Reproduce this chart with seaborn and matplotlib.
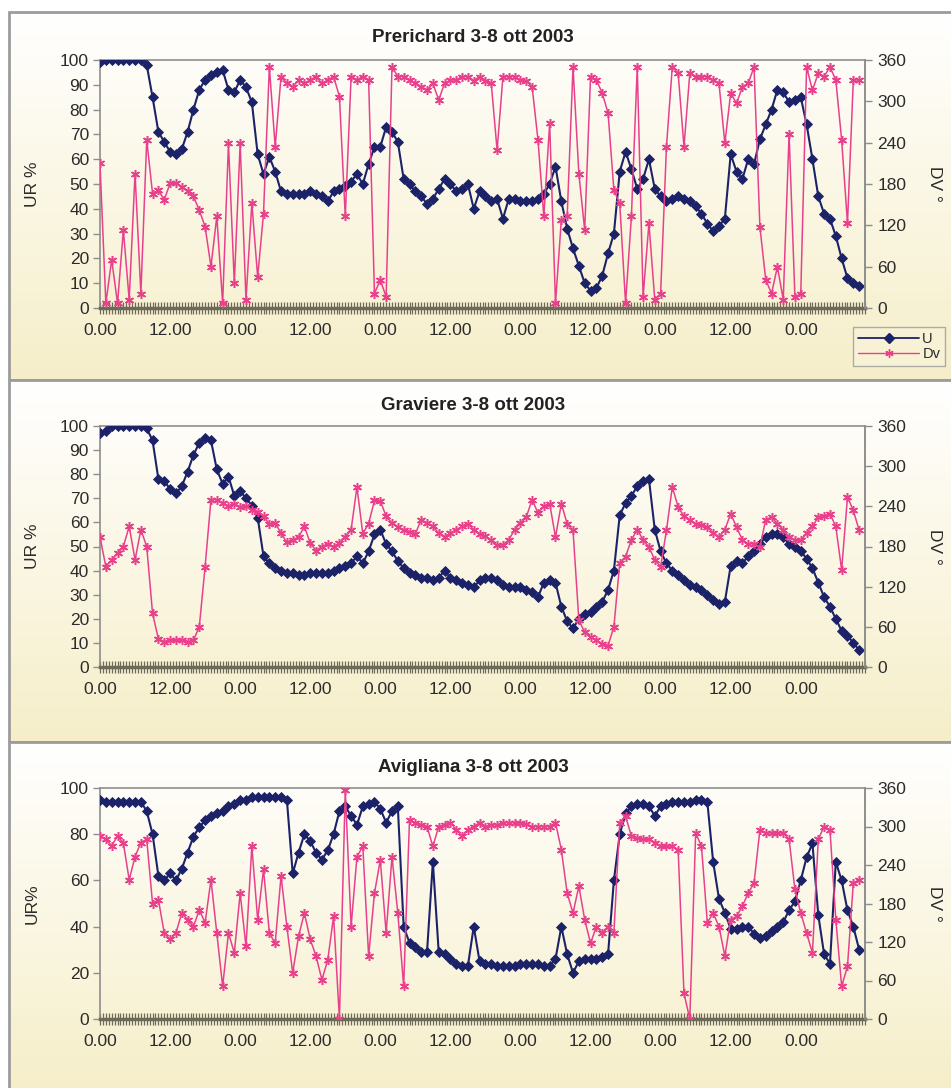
import numpy as np
import matplotlib
matplotlib.use("Agg")
import matplotlib.pyplot as plt
from matplotlib.lines import Line2D
from matplotlib.patches import Rectangle
import seaborn as sns

sns.set_theme(style="white")
plt.rcParams['font.family'] = ['Liberation Sans', 'DejaVu Sans']

# ---------------- data (hourly readings, 3-8 ott 2003) ----------------
hours = list(range(131))

titles = ["Prerichard 3-8 ott 2003", "Graviere 3-8 ott 2003", "Avigliana 3-8 ott 2003"]
left_labels = ["UR %", "UR %", "UR%"]
left_ticks = [list(range(0, 101, 10)), list(range(0, 101, 10)), list(range(0, 101, 20))]
right_ticks = [0, 60, 120, 180, 240, 300, 360]
x_tick_pos = [0, 12, 24, 36, 48, 60, 72, 84, 96, 108, 120]
x_tick_labels = ["0.00", "12.00", "0.00", "12.00", "0.00", "12.00",
                 "0.00", "12.00", "0.00", "12.00", "0.00"]
series_names = ["U", "Dv"]

u_prerichard = [
    99, 100, 100, 100, 100, 100, 100, 100, 98, 85,
    71, 67, 63, 62, 64, 71, 80, 88, 92, 94,
    95, 96, 88, 87, 92, 89, 83, 62, 54, 61,
    55, 47, 46, 46, 46, 46, 47, 46, 45, 43,
    47, 48, 49, 51, 54, 50, 58, 65, 65, 73,
    71, 67, 52, 50, 47, 45, 42, 44, 48, 52,
    50, 47, 48, 50, 40, 47, 45, 43, 44, 36,
    44, 44, 43, 43, 43, 44, 46, 50, 57, 43,
    32, 24, 17, 10, 7, 8, 13, 22, 30, 55,
    63, 56, 48, 52, 60, 48, 45, 43, 44, 45,
    44, 43, 41, 38, 34, 31, 33, 36, 62, 55,
    52, 60, 58, 68, 74, 80, 88, 87, 83, 84,
    85, 74, 60, 45, 38, 36, 29, 20, 12, 10,
    9]
dv_prerichard = [
    210, 7, 70, 7, 113, 12, 195, 21, 244, 166,
    171, 157, 181, 181, 176, 170, 162, 142, 118, 60,
    133, 7, 239, 36, 239, 12, 152, 45, 137, 350,
    234, 336, 326, 321, 331, 326, 331, 336, 326, 331,
    336, 307, 133, 336, 331, 336, 331, 21, 41, 16,
    350, 336, 336, 331, 326, 321, 316, 326, 302, 326,
    331, 331, 336, 336, 330, 336, 330, 326, 229, 336,
    336, 336, 331, 330, 321, 244, 133, 268, 7, 128,
    133, 350, 195, 113, 336, 331, 312, 283, 171, 152,
    7, 133, 350, 16, 123, 12, 21, 234, 350, 341,
    234, 341, 336, 336, 336, 331, 326, 239, 312, 297,
    321, 326, 350, 118, 41, 21, 60, 12, 253, 16,
    21, 350, 316, 341, 336, 350, 331, 244, 123, 331,
    331]

u_graviere = [
    97, 98, 100, 100, 100, 100, 100, 100, 99, 94,
    78, 77, 74, 72, 75, 81, 88, 93, 95, 94,
    82, 76, 79, 71, 73, 70, 67, 62, 46, 43,
    41, 40, 39, 39, 38, 38, 39, 39, 39, 39,
    40, 41, 42, 43, 46, 43, 48, 55, 57, 51,
    48, 44, 41, 39, 38, 37, 37, 36, 37, 40,
    37, 36, 35, 34, 33, 36, 37, 37, 36, 34,
    33, 33, 33, 32, 31, 29, 35, 36, 35, 25,
    19, 16, 20, 22, 23, 25, 27, 32, 40, 63,
    68, 71, 75, 77, 78, 57, 48, 43, 40, 38,
    36, 34, 33, 32, 30, 28, 26, 27, 42, 44,
    43, 46, 48, 51, 54, 55, 55, 54, 51, 50,
    48, 45, 41, 35, 29, 25, 20, 15, 13, 10,
    7]
dv_graviere = [
    194, 150, 160, 170, 180, 210, 160, 205, 180, 80,
    42, 38, 40, 40, 40, 38, 40, 60, 150, 250,
    250, 245, 240, 244, 239, 240, 234, 232, 225, 214,
    215, 200, 186, 190, 194, 210, 185, 174, 180, 184,
    180, 185, 194, 205, 269, 199, 214, 249, 248, 225,
    215, 209, 204, 202, 199, 220, 215, 210, 200, 194,
    200, 205, 210, 214, 205, 199, 195, 189, 182, 182,
    190, 205, 215, 224, 250, 230, 240, 244, 194, 244,
    214, 204, 70, 52, 45, 40, 35, 32, 60, 155,
    165, 190, 205, 190, 179, 160, 150, 204, 269, 239,
    225, 219, 214, 212, 209, 200, 194, 205, 229, 209,
    190, 184, 184, 179, 220, 224, 214, 205, 194, 190,
    189, 200, 210, 224, 226, 229, 210, 145, 254, 234,
    204]

u_avigliana = [
    95, 94, 94, 94, 94, 94, 94, 94, 90, 80,
    62, 60, 63, 60, 65, 72, 79, 83, 86, 88,
    89, 90, 92, 93, 95, 95, 96, 96, 96, 96,
    96, 96, 95, 63, 72, 80, 77, 72, 69, 73,
    80, 90, 92, 88, 84, 92, 93, 94, 91, 85,
    90, 92, 40, 33, 31, 29, 29, 68, 29, 28,
    26, 24, 23, 23, 40, 25, 24, 24, 23, 23,
    23, 23, 24, 24, 24, 24, 23, 23, 26, 40,
    28, 20, 25, 26, 26, 26, 27, 28, 60, 80,
    89, 92, 93, 93, 92, 88, 92, 93, 94, 94,
    94, 94, 95, 95, 94, 68, 52, 46, 39, 39,
    40, 40, 37, 35, 36, 38, 40, 42, 47, 51,
    60, 70, 76, 45, 28, 24, 68, 60, 47, 40,
    30]
dv_avigliana = [
    285, 280, 270, 285, 274, 217, 253, 275, 280, 180,
    186, 134, 124, 134, 165, 155, 144, 170, 150, 217,
    134, 51, 134, 103, 196, 113, 269, 155, 233, 134,
    118, 223, 144, 72, 129, 165, 124, 98, 61, 92,
    160, 0, 357, 144, 253, 269, 98, 196, 248, 134,
    253, 165, 51, 310, 306, 303, 300, 269, 300, 303,
    306, 295, 285, 295, 300, 306, 300, 302, 303, 306,
    306, 306, 306, 304, 300, 300, 300, 300, 306, 264,
    196, 165, 207, 155, 118, 144, 134, 144, 134, 306,
    316, 285, 282, 280, 280, 275, 269, 270, 269, 264,
    40, 0, 290, 269, 150, 165, 144, 98, 155, 160,
    176, 196, 212, 295, 290, 290, 290, 290, 280, 202,
    165, 134, 103, 280, 300, 295, 155, 51, 82, 212,
    217]

u_series = [u_prerichard, u_graviere, u_avigliana]
dv_series = [dv_prerichard, dv_graviere, dv_avigliana]

# ---------------- styling ----------------
W, H = 951, 1088
NAVY = "#1c2268"
PINK = "#e8418c"
TXT = "#2b2b2b"
GRID_GRAY = "#8e8e8e"
AXIS_DARK = "#6e6a58"
TOP_C = np.array([1.0, 1.0, 1.0])
BOT_C = np.array([0.965, 0.935, 0.79])

def fx(px):
    return px / W

def fy(py):
    return 1 - py / H

fig = plt.figure(figsize=(W / 100, H / 100), dpi=100)
fig.patch.set_facecolor("white")

panels = [(12, 380), (380, 742), (742, 1092)]
plots = [(60, 308), (426, 667), (788, 1019)]
title_y = [37, 405, 768]
PL, PR = 100, 865

grad = np.linspace(0, 1, 256)[:, None, None] * (BOT_C - TOP_C) + TOP_C

for i in range(3):
    ptop, pbot = panels[i]
    bg = fig.add_axes([fx(9), fy(pbot), fx(W - 9) + 0.01, (pbot - ptop) / H], zorder=-10)
    bg.imshow(grad, aspect="auto", extent=[0, 1, 0, 1], origin="upper")
    bg.set_xlim(0, 1)
    bg.set_ylim(0, 1)
    bg.axis("off")
    bg.add_patch(Rectangle((0, 0), 1.2, 1, fill=False, edgecolor="#9c9c9c",
                           linewidth=2, transform=bg.transAxes, clip_on=False))

    atop, abot = plots[i]
    ax = fig.add_axes([fx(PL), fy(abot), fx(PR - PL), (abot - atop) / H])
    ax.set_facecolor("none")
    sns.lineplot(x=hours, y=u_series[i], ax=ax, color=NAVY, linewidth=1.5,
                 marker="D", markersize=4.6, markeredgecolor=NAVY,
                 markeredgewidth=0.6, zorder=3)
    ax2 = ax.twinx()
    sns.lineplot(x=hours, y=dv_series[i], ax=ax2, color=PINK, linewidth=1.1,
                 marker=(6, 2, 0), markersize=6.5, markeredgecolor=PINK,
                 markeredgewidth=1.1, zorder=4)

    ax.set_xlim(0, 131)
    ax.set_ylim(0, 100)
    ax2.set_ylim(0, 360)
    ax.set_yticks(left_ticks[i])
    ax.set_yticklabels([str(v) for v in left_ticks[i]])
    ax2.set_yticks(right_ticks)
    ax2.set_yticklabels([str(v) for v in right_ticks])
    ax.set_xticks(x_tick_pos)
    ax.set_xticklabels(x_tick_labels)
    ax.set_xticks(np.arange(0, 131.01, 0.5), minor=True)
    ax.set_xlabel("")

    ax.tick_params(axis="y", which="major", direction="out", length=5, width=1,
                   color=GRID_GRAY, labelsize=12.5, labelcolor=TXT, pad=3, left=True)
    ax2.tick_params(axis="y", which="major", direction="out", length=5, width=1,
                    color=GRID_GRAY, labelsize=12.5, labelcolor=TXT, pad=4, right=True)
    ax.tick_params(axis="x", which="both", direction="inout", length=8, width=0.9,
                   color=AXIS_DARK, labelsize=12.5, labelcolor=TXT, pad=7, bottom=True)

    for s in ["top", "left", "right"]:
        ax.spines[s].set_color(GRID_GRAY)
        ax.spines[s].set_linewidth(1.2)
    ax.spines["bottom"].set_color(AXIS_DARK)
    ax.spines["bottom"].set_linewidth(2.5)
    for s in ["top", "left", "bottom"]:
        ax2.spines[s].set_visible(False)
    ax2.spines["right"].set_color(GRID_GRAY)
    ax2.spines["right"].set_linewidth(1.2)
    ax.grid(False)
    ax2.grid(False)

    ax.set_ylabel(left_labels[i], fontsize=12.5, color=TXT)
    ax.yaxis.set_label_coords((40 - PL) / (PR - PL), 0.5)
    ax2.set_ylabel("DV °", fontsize=12.5, color=TXT, rotation=270, va="center")
    ax2.yaxis.set_label_coords((935 - PL) / (PR - PL), 0.5)

    fig.text(fx(473), fy(title_y[i]), titles[i], ha="center", va="center",
             fontsize=13.5, fontweight="bold", color="#222222")

handles = [
    Line2D([], [], color=NAVY, marker="D", markersize=4.6, linewidth=1.3,
           markeredgecolor=NAVY),
    Line2D([], [], color=PINK, marker=(6, 2, 0), markersize=6, linewidth=1.0,
           markeredgecolor=PINK),
]
leg = fig.legend(handles, series_names, loc="upper left",
                 bbox_to_anchor=(fx(853), fy(327)), fontsize=10.5,
                 handlelength=4.2, handletextpad=0.2, labelspacing=0.05,
                 borderpad=0.35, borderaxespad=0, frameon=True, fancybox=False)
leg.get_frame().set_edgecolor("#9a9a9a")
leg.get_frame().set_facecolor("#f8f3d8")
leg.get_frame().set_linewidth(1.0)
for t in leg.get_texts():
    t.set_color(TXT)

fig.savefig("out.png", dpi=100)
